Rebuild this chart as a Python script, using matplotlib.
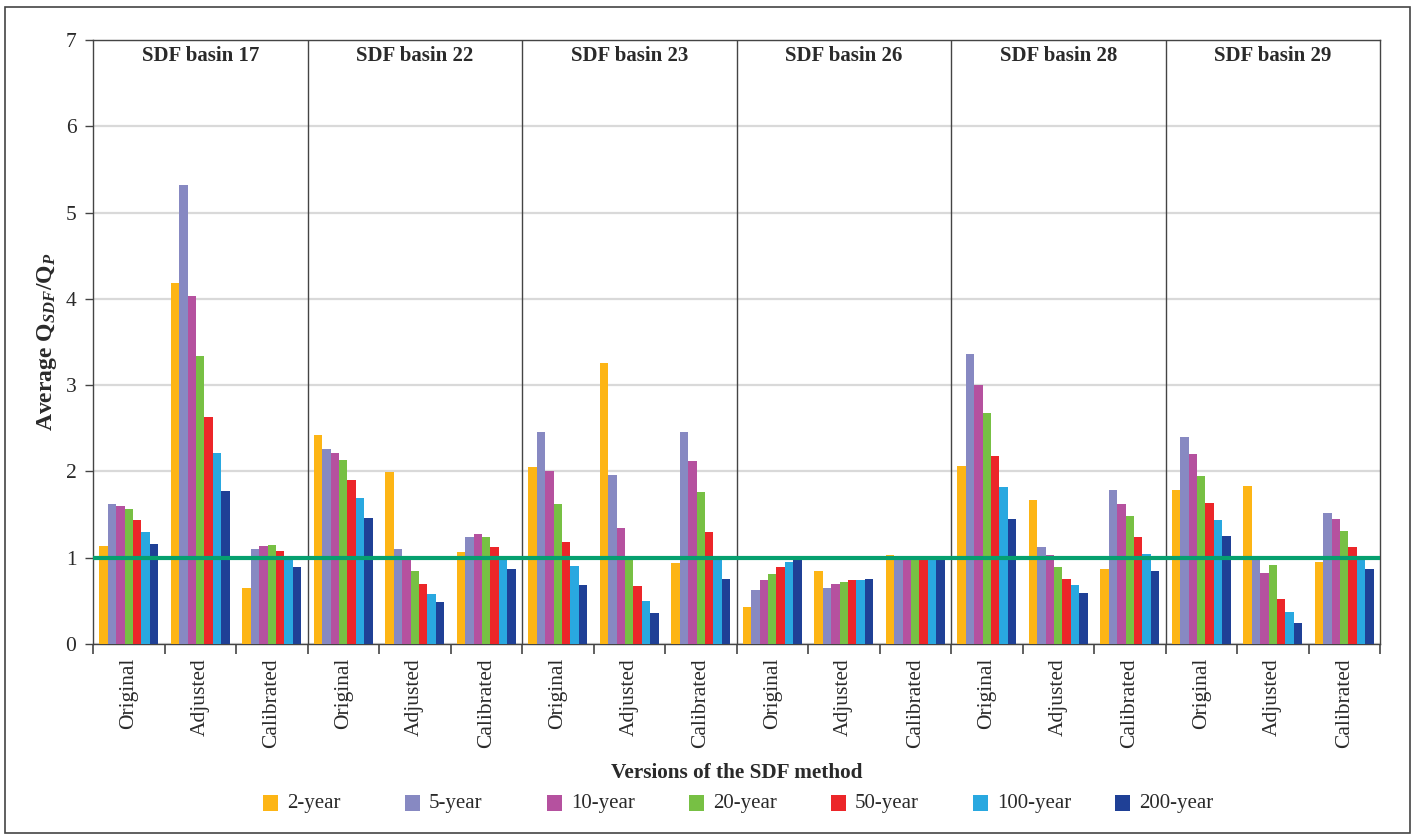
import matplotlib
matplotlib.use("Agg")
import matplotlib.pyplot as plt
from matplotlib.patches import Rectangle
import numpy as np

plt.rcParams['font.family'] = ['Liberation Serif', 'DejaVu Serif']
plt.rcParams['mathtext.fontset'] = 'custom'
plt.rcParams['mathtext.rm'] = 'Liberation Serif:bold'
plt.rcParams['mathtext.it'] = 'Liberation Serif:italic:bold'
plt.rcParams['mathtext.bf'] = 'Liberation Serif:bold'
TXT = "#2a2a2a"
plt.rcParams['text.color'] = TXT
plt.rcParams['axes.labelcolor'] = TXT
plt.rcParams['xtick.color'] = TXT
plt.rcParams['ytick.color'] = TXT

basins = ["SDF basin 17", "SDF basin 22", "SDF basin 23", "SDF basin 26", "SDF basin 28", "SDF basin 29"]
versions = ["Original", "Adjusted", "Calibrated"]
periods = ["2-year", "5-year", "10-year", "20-year", "50-year", "100-year", "200-year"]
colors = ["#FDB515", "#8789C2", "#B5519F", "#77C044", "#EC2629", "#29A8E0", "#1F4096"]

# values[basin][version] = 7 return periods
b17 = [[1.13, 1.62, 1.60, 1.56, 1.44, 1.30, 1.16],
       [4.18, 5.32, 4.03, 3.34, 2.63, 2.21, 1.77],
       [0.65, 1.10, 1.14, 1.15, 1.08, 0.99, 0.89]]
b22 = [[2.42, 2.26, 2.21, 2.13, 1.90, 1.69, 1.46],
       [1.99, 1.10, 0.97, 0.85, 0.70, 0.58, 0.49],
       [1.07, 1.24, 1.27, 1.24, 1.12, 1.00, 0.87]]
b23 = [[2.05, 2.46, 2.01, 1.62, 1.18, 0.90, 0.68],
       [3.26, 1.96, 1.34, 0.99, 0.67, 0.50, 0.36],
       [0.94, 2.46, 2.12, 1.76, 1.30, 1.00, 0.75]]
b26 = [[0.43, 0.63, 0.74, 0.81, 0.89, 0.95, 0.98],
       [0.85, 0.65, 0.70, 0.72, 0.74, 0.74, 0.75],
       [1.03, 0.99, 1.02, 1.00, 1.00, 1.00, 1.00]]
b28 = [[2.06, 3.36, 3.00, 2.68, 2.18, 1.82, 1.45],
       [1.67, 1.12, 1.03, 0.89, 0.75, 0.68, 0.59],
       [0.87, 1.78, 1.62, 1.48, 1.24, 1.04, 0.85]]
b29 = [[1.78, 2.40, 2.20, 1.95, 1.63, 1.44, 1.25],
       [1.83, 1.00, 0.82, 0.92, 0.52, 0.37, 0.24],
       [0.95, 1.52, 1.45, 1.31, 1.12, 1.00, 0.87]]
all_basins = [b17, b22, b23, b26, b28, b29]

W, H = 1415, 838
fig = plt.figure(figsize=(W / 100, H / 100), dpi=100)
fig.patches.append(Rectangle((5/W, 5/H), 1405/W, 826/H, transform=fig.transFigure,
                             fill=False, edgecolor="#444444", lw=1.2))
ax = fig.add_axes([93/W, 1 - 644/H, (1380-93)/W, (644-40)/H])

ncat = len(basins) * len(versions)
bw = 0.118
offsets = (np.arange(len(periods)) - (len(periods) - 1) / 2) * bw

for k in range(len(periods)):
    xs, hs = [], []
    for bi, b in enumerate(all_basins):
        for vi, v in enumerate(b):
            xs.append(bi * 3 + vi + 0.5 + offsets[k])
            hs.append(v[k])
    ax.bar(xs, hs, width=bw, color=colors[k], zorder=3, linewidth=0)

ax.set_xlim(0, ncat)
ax.set_ylim(0, 7)
ax.set_yticks(range(8))
ax.yaxis.grid(True, color="#d9d9d9", lw=1.6, zorder=0)
ax.set_axisbelow(True)
ax.axhline(1, color="#06A06F", lw=3, zorder=5)

for s in range(1, len(basins)):
    ax.axvline(s * 3, color="#444444", lw=1.0, zorder=4)

for bi, name in enumerate(basins):
    ax.text(bi * 3 + 1.5, 6.81, name, ha="center", va="center", fontsize=15, fontweight="bold")

ax.set_xticks(range(ncat + 1))
ax.set_xticklabels([])
ax.set_xticks([i + 0.5 for i in range(ncat)], minor=True)
ax.set_xticklabels(versions * len(basins), minor=True, rotation=90, fontsize=15.5)
ax.tick_params(axis="x", which="minor", length=0, pad=10)
ax.tick_params(axis="x", which="major", length=7, width=1.2, color="#444444")
ax.tick_params(axis="y", length=6, width=1.0, color="#444444", labelsize=15.5, pad=6)

for sp in ax.spines.values():
    sp.set_color("#444444")
    sp.set_linewidth(1.0)

ax.set_ylabel(r"Average Q$_{SDF}$/Q$_{P}$", fontsize=17, fontweight="bold", labelpad=5)

fig.text(736.5/W, 1 - 773/H, "Versions of the SDF method", ha="center", va="center",
         fontsize=15.3, fontweight="bold")

# legend: evenly spaced entries
for i, (lab, c) in enumerate(zip(periods, colors)):
    x0 = 263 + 142 * i
    fig.patches.append(Rectangle((x0 / W, 1 - 811 / H), 15 / W, 16 / H,
                                 transform=fig.transFigure, facecolor=c, edgecolor="none"))
    fig.text((x0 + 24) / W, 1 - 803 / H, lab, ha="left", va="center", fontsize=15)

fig.savefig("out.png", dpi=100)
